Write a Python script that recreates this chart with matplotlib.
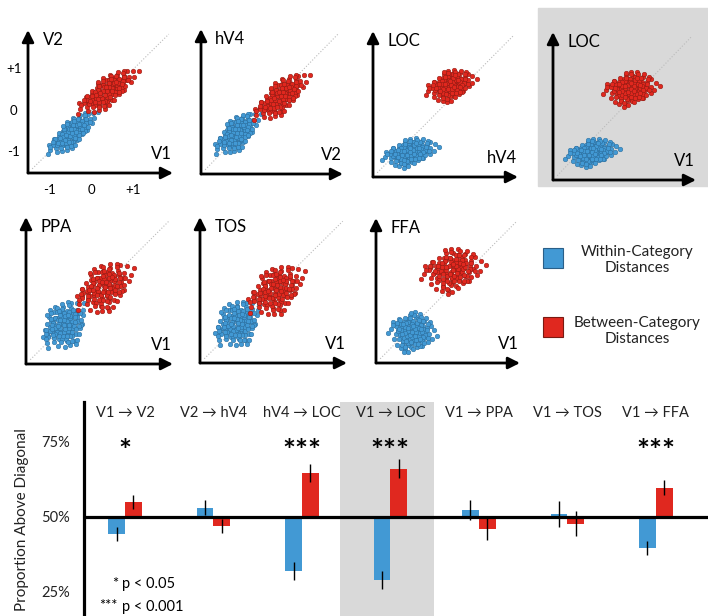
import numpy as np
import matplotlib.pyplot as plt
from matplotlib.patches import Rectangle

plt.rcParams['font.family'] = ['Lato', 'DejaVu Sans']

# ---------------- data ----------------
# bar chart: proportion of points above the diagonal
groups = ['V1 → V2', 'V2 → hV4', 'hV4 → LOC', 'V1 → LOC', 'V1 → PPA', 'V1 → TOS', 'V1 → FFA']
within = [44.3, 53.1, 32.0, 29.0, 52.3, 51.0, 39.6]
within_err = [2.3, 2.4, 3.0, 3.0, 3.4, 4.2, 2.4]
between = [55.0, 47.1, 64.7, 66.1, 46.0, 47.7, 59.8]
between_err = [2.2, 2.3, 3.1, 3.2, 3.7, 4.2, 2.6]
stars = ['*', '', '***', '***', '', '', '***']

# scatter panels (units of the first panel's -1..+1 axis)
panel_x = ['V1', 'V2', 'hV4', 'V1', 'V1', 'V1', 'V1']
panel_y = ['V2', 'hV4', 'LOC', 'LOC', 'PPA', 'TOS', 'FFA']
blue_center = [(-0.47, -0.53), (-0.64, -0.53), (-0.63, -0.91), (-0.57, -0.85),
               (-0.62, -0.58), (-0.64, -0.56), (-0.64, -0.75)]
red_center = [(0.36, 0.47), (0.42, 0.34), (0.33, 0.67), (0.36, 0.64),
              (0.32, 0.30), (0.26, 0.22), (0.32, 0.72)]
# spread along / across the main direction, and its angle
blue_shape = [(0.74, 0.30, 42), (0.68, 0.36, 43), (0.66, 0.34, 15), (0.64, 0.33, 12),
              (0.64, 0.52, 55), (0.64, 0.52, 50), (0.56, 0.52, 0)]
red_shape = [(0.85, 0.34, 37), (0.82, 0.36, 40), (0.60, 0.38, 20), (0.66, 0.42, 10),
             (0.78, 0.54, 40), (0.78, 0.54, 40), (0.76, 0.56, 15)]

# hand-made cloud of offsets, reused for every cloud
cloud_dx = [0.12, -0.31, 0.45, -0.08, 0.27, -0.52, 0.63, -0.15, 0.05, -0.40,
            0.34, -0.66, 0.81, -0.22, 0.18, -0.02, 0.52, -0.75, 0.39, -0.35,
            0.09, -0.58, 0.71, -0.12, 0.23, -0.47, 0.95, -0.28, 0.14, -0.89,
            0.48, -0.05, 0.31, -0.19, 0.60, -0.63, 0.02, -0.38, 0.42, -0.10,
            0.76, -0.54, 0.20, -0.25, 0.58, -0.70, 0.03, -0.45, 0.29, -0.16,
            1.08, -1.02, 0.36, -0.33, 0.86, -0.80, 0.10, -0.06, 0.66, -0.48,
            0.25, -0.29, 0.50, -0.12, 0.14, -0.60, 0.40, -0.20, 0.70, -0.38]
cloud_dy = [-0.05, 0.22, 0.10, -0.40, 0.35, -0.18, -0.22, 0.58, 0.21, -0.55,
            -0.41, 0.30, 0.27, -0.07, 0.66, -0.72, 0.49, -0.36, -0.08, 0.44,
            0.41, 0.05, -0.49, 0.17, -0.25, -0.30, 0.05, -0.81, 0.88, 0.12,
            0.23, -0.22, 0.02, 0.36, 0.61, -0.62, 0.50, 0.02, -0.66, -0.55,
            0.42, 0.55, -0.12, -0.33, -0.03, -0.10, 0.03, 0.25, 0.55, -0.63,
            -0.20, -0.05, 0.80, -0.95, -0.35, 0.45, -0.35, 0.75, 0.15, -0.75,
            0.15, 0.08, -0.30, 0.45, -0.52, 0.38, 0.40, -0.20, 0.32, -0.45]

# ---------------- layout ----------------
W, H = 708, 616
BLUE, BLUE_EDGE = '#4299d4', '#2a6a98'
RED, RED_EDGE = '#e0281f', '#8a1a12'

fig = plt.figure(figsize=(W / 100, H / 100), dpi=100)


def px_axes(x0, y0, x1, y1):
    """axes from a pixel box, top-left origin"""
    return fig.add_axes([x0 / W, 1 - y1 / H, (x1 - x0) / W, (y1 - y0) / H])


def cloud(center, shape):
    sa, sb, ang = shape
    t = np.radians(ang)
    dx = np.array(cloud_dx)
    dy = np.array(cloud_dy)
    u = np.concatenate([dx, dy * 0.85])
    v = np.concatenate([dy, -dx * 0.85])
    x = center[0] + sa * u * np.cos(t) - sb * v * np.sin(t)
    y = center[1] + sa * u * np.sin(t) + sb * v * np.cos(t)
    return x, y


# gray highlight behind the V1 -> LOC scatter
fig.add_artist(Rectangle((538 / W, 1 - 186 / H), (708 - 538) / W, (186 - 8) / H,
                         transform=fig.transFigure, color='#d9d9d9', zorder=-1))

# corner x, arrow top y, arrow right x, corner y
panel_box = [(28, 30, 173, 173), (201, 29, 343, 174), (373, 31, 518, 177), (553, 32, 696, 180),
             (26, 217, 173, 364), (200, 217, 347, 363), (376, 218, 520, 363)]

arrow = dict(arrowstyle='-|>,head_length=0.7,head_width=0.35', lw=2, color='k',
             shrinkA=0, shrinkB=0, mutation_scale=10)

for i, box in enumerate(panel_box):
    ax = px_axes(*box)
    ax.set_xlim(-1.5, 1.95)
    ax.set_ylim(-1.5, 1.95)
    ax.axis('off')
    ax.plot([-1.4, 1.85], [-1.4, 1.85], ls=':', color='#bbbbbb', lw=0.8, zorder=1)
    bx, by = cloud(blue_center[i], blue_shape[i])
    rx, ry = cloud(red_center[i], red_shape[i])
    ax.scatter(bx, by, s=11, c=BLUE, edgecolors=BLUE_EDGE, linewidths=0.35, zorder=2)
    ax.scatter(rx, ry, s=11, c=RED, edgecolors=RED_EDGE, linewidths=0.35, zorder=3)
    ax.annotate('', xy=(1, 0), xytext=(0, 0), xycoords='axes fraction', arrowprops=arrow)
    ax.annotate('', xy=(0, 1), xytext=(0, 0), xycoords='axes fraction', arrowprops=arrow)
    ax.text(0.1, 0.93, panel_y[i], transform=ax.transAxes, fontsize=12, va='center', ha='left')
    ax.text(0.99, 0.13, panel_x[i], transform=ax.transAxes, fontsize=12, va='center', ha='right')
    if i == 0:
        for v, lab in zip([-1, 0, 1], ['-1', '0', '+1']):
            ax.text(v, -0.12, lab, transform=ax.get_xaxis_transform(), fontsize=9.5,
                    ha='center', va='center')
            ax.text(-0.097, v, lab, transform=ax.get_yaxis_transform(), fontsize=9.5,
                    ha='center', va='center')

# legend for the scatter panels
fig.add_artist(Rectangle((543 / W, 1 - 268 / H), 20 / W, 20 / H, transform=fig.transFigure,
                         facecolor=BLUE, edgecolor='#2a5f88', lw=0.8))
fig.add_artist(Rectangle((543 / W, 1 - 337 / H), 20 / W, 20 / H, transform=fig.transFigure,
                         facecolor=RED, edgecolor='#7a1a12', lw=0.8))
fig.text(637 / W, 1 - 260 / H, 'Within-Category\nDistances', fontsize=11, ha='center',
         va='center', linespacing=1.25, color='#222222')
fig.text(637 / W, 1 - 331 / H, 'Between-Category\nDistances', fontsize=11, ha='center',
         va='center', linespacing=1.25, color='#222222')

# ---------------- bar chart ----------------
bx_ = px_axes(84, 402, 708, 616)
xpos = np.arange(len(groups))
bw = 0.19
bx_.axvspan(2.43, 3.49, color='#d9d9d9', zorder=0, lw=0)
bx_.bar(xpos - bw / 2, np.array(within) - 50, bw, bottom=50, color=BLUE, zorder=2)
bx_.bar(xpos + bw / 2, np.array(between) - 50, bw, bottom=50, color=RED, zorder=2)
bx_.errorbar(xpos - bw / 2, within, yerr=within_err, fmt='none', ecolor='k', elinewidth=1, zorder=3)
bx_.errorbar(xpos + bw / 2, between, yerr=between_err, fmt='none', ecolor='k', elinewidth=1, zorder=3)
bx_.axhline(50, color='k', lw=2.3, zorder=4)
bx_.set_xlim(-0.463, 6.59)
bx_.set_ylim(17, 88.3)
for s in ['top', 'right', 'bottom']:
    bx_.spines[s].set_visible(False)
bx_.spines['left'].set_linewidth(2.3)
bx_.set_xticks([])
bx_.set_yticks([25, 50, 75])
bx_.set_yticklabels(['25%', '50%', '75%'], fontsize=10.5, color='#222222')
bx_.tick_params(axis='y', length=0, pad=10)
bx_.patch.set_visible(False)

for i, g in enumerate(groups):
    bx_.text(i, 84.7, g, ha='center', va='center', fontsize=10.5, color='#222222')
    if stars[i]:
        bx_.text(i, 71.6, stars[i], ha='center', va='center', fontsize=22, fontweight='bold')

fig.text(22 / W, 1 - 520 / H, 'Proportion Above Diagonal', rotation=90, ha='center',
         va='center', fontsize=11, color='#222222')
fig.text(118 / W, 1 - 584 / H, '*', ha='right', va='center', fontsize=10.5)
fig.text(122 / W, 1 - 584 / H, 'p < 0.05', ha='left', va='center', fontsize=10.5)
fig.text(118 / W, 1 - 606 / H, '***', ha='right', va='center', fontsize=10.5)
fig.text(122 / W, 1 - 607 / H, 'p < 0.001', ha='left', va='center', fontsize=10.5)

fig.savefig('out.png', dpi=100)
